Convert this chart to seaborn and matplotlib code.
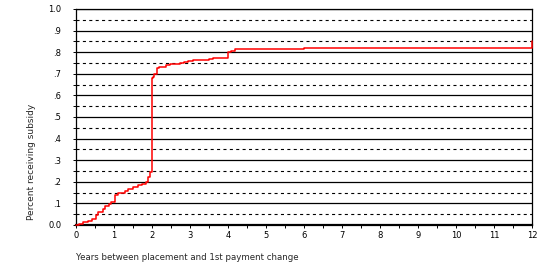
import matplotlib
matplotlib.use("Agg")
import matplotlib.pyplot as plt
import seaborn as sns
import pandas as pd
import numpy as np

# Step-curve data (years, share receiving subsidy)
years = [0.00, 0.07, 0.19, 0.32, 0.41, 0.53, 0.59, 0.72, 0.76, 0.88, 0.91, 1.00,
         1.03, 1.11, 1.29, 1.38, 1.51, 1.64, 1.73, 1.84, 1.90, 1.96, 2.00,
         2.03, 2.06, 2.12, 2.19, 2.36, 2.47, 2.74, 2.85, 2.96, 3.09, 3.50,
         3.61, 4.00, 4.08, 4.18, 6.00, 12.00]
share = [0.000, 0.005, 0.013, 0.020, 0.026, 0.046, 0.062, 0.073, 0.088, 0.096, 0.106, 0.108,
         0.139, 0.147, 0.159, 0.166, 0.177, 0.185, 0.190, 0.200, 0.220, 0.247, 0.680,
         0.687, 0.698, 0.725, 0.733, 0.741, 0.744, 0.749, 0.754, 0.760, 0.764, 0.769,
         0.772, 0.800, 0.806, 0.815, 0.820, 0.850]

x_ticks = list(range(0, 13))
x_tick_labels = [str(v) for v in x_ticks]
y_ticks = [0.0, 0.1, 0.2, 0.3, 0.4, 0.5, 0.6, 0.7, 0.8, 0.9, 1.0]
y_tick_labels = ["0.0", ".1", ".2", ".3", ".4", ".5", ".6", ".7", ".8", ".9", "1.0"]
dash_levels = [0.05, 0.15, 0.25, 0.35, 0.45, 0.55, 0.65, 0.75, 0.85, 0.95]

x_label = "Years between placement and 1st payment change"
y_label = "Percent receiving subsidy"

sns.set_style("white")
plt.rcParams["font.family"] = ["DejaVu Sans"]
plt.rcParams["lines.scale_dashes"] = False

fig = plt.figure(figsize=(5.56, 2.67), dpi=100)
ax = fig.add_axes([76 / 556, 42 / 267, 456 / 556, 216 / 267])

# grid lines
for yv in y_ticks[1:]:
    ax.axhline(yv, color="black", lw=0.9, zorder=1)
for yv in dash_levels:
    ax.axhline(yv, color="black", lw=0.8, ls=(0, (2.2, 2.4)), zorder=1)

df = pd.DataFrame({"years": years, "share": share})
sns.lineplot(data=df, x="years", y="share", ax=ax, color="#ff0000",
             drawstyle="steps-post", lw=1.1, estimator=None, zorder=4)
for ln in ax.get_lines()[-1:]:
    ln.set_clip_on(False)

ax.set_xlim(0, 12)
ax.set_ylim(0, 1.0)
ax.set_xticks(x_ticks)
ax.set_xticklabels(x_tick_labels, fontsize=6)
ax.set_xticks(np.arange(0.5, 12, 1.0), minor=True)
ax.set_yticks(y_ticks)
ax.set_yticklabels(y_tick_labels, fontsize=6)
ax.set_yticks(dash_levels, minor=True)
ax.tick_params(axis="x", which="both", direction="out", length=2.5, width=0.7,
               pad=1.5, bottom=True, colors="black")
ax.tick_params(axis="y", which="both", direction="out", length=2.5, width=0.7,
               pad=8, left=True, colors="black")
ax.set_xlabel("")
ax.set_ylabel("")

for side in ["left", "right", "top"]:
    ax.spines[side].set_color("black")
    ax.spines[side].set_linewidth(0.9)
ax.spines["bottom"].set_color("black")
ax.spines["bottom"].set_linewidth(1.6)

fig.text(76 / 556, 9 / 267, x_label, fontsize=6.2, ha="left", va="center")
fig.text(32 / 556, 105 / 267, y_label, fontsize=6.5, ha="center", va="center",
         rotation=90)

fig.savefig("out.png", dpi=100)
